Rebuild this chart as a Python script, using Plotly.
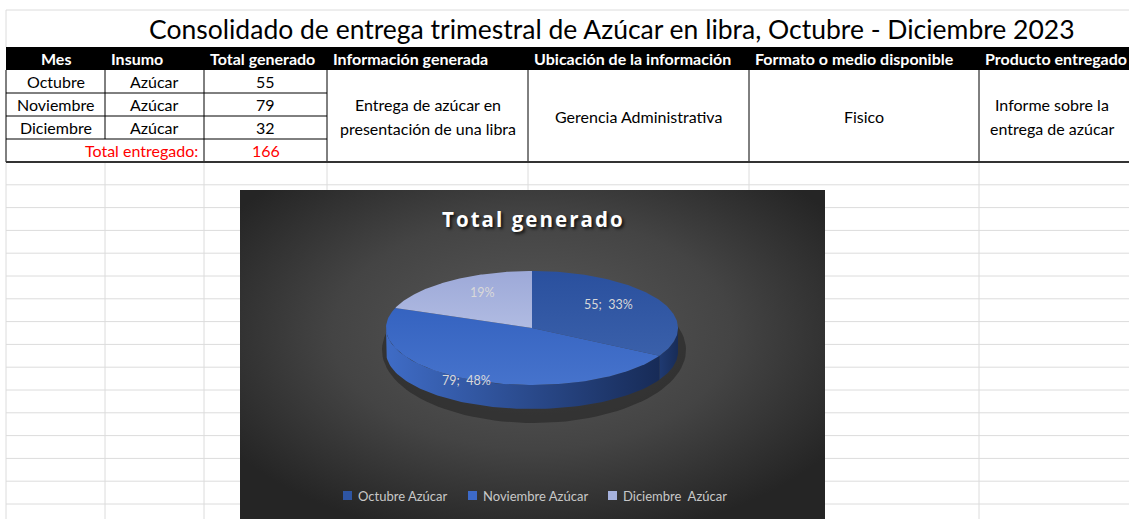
import base64
import numpy as np
import plotly.graph_objects as go

W, H = 1129, 519

# ---------------- data ----------------
titulo = "Consolidado de entrega trimestral de Azúcar en libra, Octubre - Diciembre 2023"
headers = ["Mes", "Insumo", "Total generado", "Información generada",
           "Ubicación de la información", "Formato o medio disponible", "Producto entregado"]
meses = ["Octubre", "Noviembre", "Diciembre"]
insumos = ["Azúcar", "Azúcar", "Azúcar"]
total_generado = [55, 79, 32]
total_label = "Total entregado:"
informacion_generada = ["Entrega de azúcar en", "presentación de una libra"]
ubicacion = ["Gerencia Administrativa"]
formato = ["Fisico"]
producto = ["Informe sobre la", "entrega de azúcar"]
chart_title = "Total generado"
legend_labels = ["Octubre Azúcar", "Noviembre Azúcar", "Diciembre\u00a0 Azúcar"]
show_value = [True, True, False]

# ---------------- layout constants ----------------
col_x = [6, 105, 204, 327, 528, 749, 979, 1140]
row_y = [47, 70, 93, 116, 139, 162]
grid_step = 22.8
grid_col = "#DCDCDC"
chart_box = (240, 825, 190, 530)
FONT = "Lato"

top_colors = ["#2E55A3", "#3D6AC8", "#A6B2DD"]
top_grad = [["#3A60AA", "#2A509E"], ["#4673CC", "#3563C0"], ["#B0BBE2", "#9DA9D8"]]
side_grad = [["#1F3A72", "#182C57"], ["#3F6CC6", "#172B57"], ["#6E7BA8", "#4F5B86"]]

fig = go.Figure()
shapes = []
annotations = []


def line(x0, y0, x1, y1, color=grid_col, width=1):
    shapes.append(dict(type="line", xref="x", yref="y", x0=x0, y0=y0, x1=x1, y1=y1,
                       line=dict(color=color, width=width), layer="below"))


def text(x, y, s, size=16, color="black", bold=False, xanchor="center", family=FONT, **kw):
    annotations.append(dict(x=x, y=y, xref="x", yref="y", text=s, showarrow=False,
                            xanchor=xanchor, yanchor="middle",
                            font=dict(family=family, size=size, color=color,
                                      weight="bold" if bold else "normal", **kw)))


# ---------------- sheet gridlines ----------------
line(col_x[0], 10, W, 10)
line(col_x[0], 10, col_x[0], row_y[0])
cx0, cx1, cy0, cy1 = chart_box
yy = row_y[-1] + grid_step
while yy < H:
    if yy < cy0:
        line(col_x[0], yy, W, yy)
    else:
        line(col_x[0], yy, cx0, yy)
        line(cx1, yy, W, yy)
    yy += grid_step
for xv in col_x[:7]:
    if xv < cx0 or xv > cx1:
        line(xv, row_y[-1], xv, H)
    else:
        line(xv, row_y[-1], xv, cy0)

# ---------------- table ----------------
shapes.append(dict(type="rect", xref="x", yref="y", x0=col_x[0], x1=W + 5, y0=row_y[0], y1=row_y[1],
                   fillcolor="black", line=dict(width=0)))
for i, xv in enumerate(col_x[:7]):
    for r in range(1, 5):
        if r == 4 and i == 1:
            continue
        line(xv, row_y[r], xv, row_y[r + 1], color="black", width=1)
for r in range(2, 5):
    line(col_x[0], row_y[r], col_x[3], row_y[r], color="black", width=1)
line(col_x[0], row_y[5], W + 5, row_y[5], color="#333333", width=2)

hy = (row_y[0] + row_y[1]) / 2
for i, h in enumerate(headers):
    if i == 0:
        text((col_x[0] + col_x[1]) / 2, hy, h, size=16, color="white", bold=True)
    else:
        text(col_x[i] + 4, hy, h, size=16, color="white", bold=True, xanchor="left")

for r in range(3):
    ry = (row_y[r + 1] + row_y[r + 2]) / 2
    text((col_x[0] + col_x[1]) / 2, ry, meses[r])
    text((col_x[1] + col_x[2]) / 2, ry, insumos[r])
    text((col_x[2] + col_x[3]) / 2, ry, str(total_generado[r]))
ry = (row_y[4] + row_y[5]) / 2
text(col_x[2] - 4, ry, total_label, color="#FF0000", xanchor="right")
text((col_x[2] + col_x[3]) / 2, ry, str(sum(total_generado)), color="#FF0000")

mid_y = (row_y[1] + row_y[5]) / 2
for ci, lines_ in zip([3, 4, 5, 6], [informacion_generada, ubicacion, formato, producto]):
    n = len(lines_)
    xc = (col_x[ci] + col_x[ci + 1]) / 2 if ci < 6 else 1052
    for k, s in enumerate(lines_):
        text(xc, mid_y + (k - (n - 1) / 2) * 24, s)

text(612, 29, titulo, size=26.5)

# ---------------- chart background (radial gradient) ----------------
bw, bh = cx1 - cx0, cy1 - cy0
svg = (f'<svg xmlns="http://www.w3.org/2000/svg" width="{bw}" height="{bh}" viewBox="0 0 {bw} {bh}" '
       f'preserveAspectRatio="none"><defs><radialGradient id="g" cx="50%" cy="42%" r="62%">'
       f'<stop offset="0" stop-color="#595959"/><stop offset="0.55" stop-color="#444444"/>'
       f'<stop offset="1" stop-color="#252525"/></radialGradient></defs>'
       f'<rect width="{bw}" height="{bh}" fill="url(#g)"/></svg>')
src = "data:image/svg+xml;base64," + base64.b64encode(svg.encode()).decode()
images = [dict(source=src, xref="paper", yref="paper", x=cx0 / W, y=1 - cy0 / H,
               sizex=bw / W, sizey=bh / H, xanchor="left", yanchor="top",
               sizing="stretch", layer="below")]

text(532, 219, "\u200a".join(chart_title), size=20.5, color="white", bold=True, family="Open Sans",
     shadow="2px 2px 3px rgba(0,0,0,0.75)")

# ---------------- 3D pie ----------------
pcx, pcy, prx, pry, depth = 532, 328, 146, 57, 24
total = sum(total_generado)
fracs = np.array(total_generado) / total
bounds = np.concatenate([[0], np.cumsum(fracs)]) * 2 * np.pi

# shadow
t = np.linspace(0, 2 * np.pi, 120)
fig.add_trace(go.Scatter(x=pcx + 2 + (prx + 6) * np.sin(t), y=pcy + 22 + (pry + 16) * np.cos(t),
                         mode="lines", fill="toself", fillcolor="rgba(0,0,0,0.3)",
                         line=dict(width=0), hoverinfo="skip", showlegend=False))


def pt(th, dy=0.0):
    return pcx + prx * np.sin(th), pcy - pry * np.cos(th) + dy


# side faces
for i in range(3):
    a, b = max(bounds[i], np.pi / 2), min(bounds[i + 1], 3 * np.pi / 2)
    if b <= a:
        continue
    th = np.linspace(a, b, 80)
    xt, yt = pt(th)
    xb, yb = pt(th[::-1], depth)
    fig.add_trace(go.Scatter(x=np.concatenate([xt, xb, xt[:1]]), y=np.concatenate([yt, yb, yt[:1]]),
                             mode="lines", fill="toself", line=dict(width=0),
                             fillgradient=dict(type="horizontal",
                                               colorscale=[[0, side_grad[i][0]], [1, side_grad[i][1]]]),
                             hoverinfo="skip", showlegend=False))

# top faces
for i in range(3):
    th = np.linspace(bounds[i], bounds[i + 1], 120)
    xa, ya = pt(th)
    fig.add_trace(go.Scatter(x=np.concatenate([[pcx], xa, [pcx]]), y=np.concatenate([[pcy], ya, [pcy]]),
                             mode="lines", fill="toself", line=dict(width=0),
                             fillgradient=dict(type="vertical",
                                               colorscale=[[0, top_grad[i][0]], [1, top_grad[i][1]]]),
                             hoverinfo="skip", showlegend=False))

# data labels
label_fx = [0.61, 1.06, 0.6]
label_fy = [0.8, 1.02, 0.76]
for i in range(3):
    m = (bounds[i] + bounds[i + 1]) / 2
    pct = round(100 * fracs[i])
    s = f"{total_generado[i]};\u00a0 {pct}%" if show_value[i] else f"{pct}%"
    text(pcx + prx * label_fx[i] * np.sin(m), pcy - pry * label_fy[i] * np.cos(m), s,
         size=12.5, color="#D9D9D9")

# legend
legend_x = [343, 468, 608]
for i in range(3):
    shapes.append(dict(type="rect", xref="x", yref="y", x0=legend_x[i], x1=legend_x[i] + 9,
                       y0=491, y1=500, fillcolor=top_colors[i], line=dict(width=0)))
    text(legend_x[i] + 13, 496, legend_labels[i], size=13, color="#C8C8C8", xanchor="left")

fig.update_layout(
    width=W, height=H, margin=dict(l=0, r=0, t=0, b=0),
    paper_bgcolor="white", plot_bgcolor="white",
    xaxis=dict(range=[0, W], visible=False, fixedrange=True),
    yaxis=dict(range=[H, 0], visible=False, fixedrange=True),
    shapes=shapes, annotations=annotations, images=images, showlegend=False,
)
fig.write_html("out.html", config={"displayModeBar": False},
               post_script="document.body.style.margin='0px';document.body.style.overflow='hidden';")
